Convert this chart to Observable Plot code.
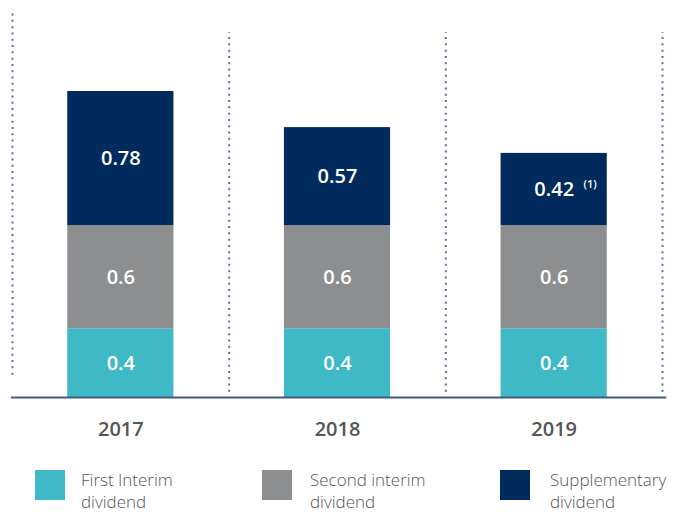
<!DOCTYPE html>
<html>
<head>
<meta charset="utf-8">
<script src="https://cdn.jsdelivr.net/npm/d3@7"></script>
<script src="https://cdn.jsdelivr.net/npm/@observablehq/plot@0.6"></script>
<style>
  html, body { margin: 0; padding: 0; background: #fff; }
  body { width: 682px; height: 512px; overflow: hidden; font-family: "Open Sans", sans-serif; }
  #legend { position: relative; height: 57px; }
  .item { position: absolute; top: 15px; display: flex; align-items: flex-start; }
  .sw { width: 30px; height: 30px; flex: none; }
  .lab { font-size: 17px; line-height: 22px; color: #555; font-weight: 300; margin-top: -1px; }
</style>
</head>
<body>
<div id="chart"></div>
<div id="legend"></div>
<script>
const years = [2017, 2018, 2019];
const seriesNames = ["First Interim dividend", "Second interim dividend", "Supplementary dividend"];
const seriesLines = [["First Interim", "dividend"], ["Second interim", "dividend"], ["Supplementary", "dividend"]];
const firstInterim = [0.4, 0.4, 0.4];
const secondInterim = [0.6, 0.6, 0.6];
const supplementary = [0.78, 0.57, 0.42];
const valueLabels = [["0.4", "0.6", "0.78"], ["0.4", "0.6", "0.57"], ["0.4", "0.6", "0.42"]];
const notes = [{year: 2019, series: 2, note: "(1)"}];
const colors = ["#40b9c6", "#8d8e90", "#002b5c"];
const gridBounds = [2016.5, 2017.5, 2018.5, 2019.5];
const gridTops = [2.257, 2.123, 2.123, 2.123];
const gridBottoms = [0.13, 0.03, 0.03, 0.03];

const seriesValues = [firstInterim, secondInterim, supplementary];
const rows = [];
years.forEach((year, i) => {
  let acc = 0;
  seriesValues.forEach((vals, s) => {
    rows.push({year, series: seriesNames[s], s, y1: acc, y2: acc + vals[i], label: valueLabels[i][s]});
    acc += vals[i];
  });
});
const noteRows = notes.map(n => rows.find(r => r.year === n.year && r.s === n.series)).map((r, k) => ({...r, note: notes[k].note}));
const grid = gridBounds.map((x, i) => ({x, top: gridTops[i], bottom: gridBottoms[i]}));
const halfWidth = 0.245;

const chart = Plot.plot({
  width: 682,
  height: 455,
  marginLeft: 12,
  marginRight: 20,
  marginTop: 9,
  marginBottom: 58,
  style: {fontFamily: "Open Sans, sans-serif", background: "#fff"},
  x: {domain: [2016.5, 2019.5], axis: null},
  y: {domain: [0, 2.257], axis: null},
  color: {domain: seriesNames, range: colors},
  marks: [
    Plot.ruleX(grid, {x: "x", y1: "bottom", y2: "top", stroke: "#5b7496", strokeWidth: 2, strokeDasharray: "2,4.3"}),
    Plot.rectY(rows, {x1: d => d.year - halfWidth, x2: d => d.year + halfWidth, y1: "y1", y2: "y2", fill: "series"}),
    Plot.ruleY([0], {x1: 2016.495, x2: 2019.52, stroke: "#3f5b7d", strokeWidth: 2}),
    Plot.text(rows, {x: "year", y: d => (d.y1 + d.y2) / 2, text: "label", fill: "white", fontSize: 20, fontWeight: 600}),
    Plot.text(noteRows, {x: "year", y: d => (d.y1 + d.y2) / 2, text: "note", fill: "white", fontSize: 11, fontWeight: 600, dx: 36, dy: -5}),
    Plot.axisX(years, {tickSize: 0, tickPadding: 24, fontSize: 20, fontWeight: 600, fill: "#555", tickFormat: d => String(d)})
  ]
});
document.getElementById("chart").appendChild(chart);

const legendPos = [{left: 35, gap: 16}, {left: 262, gap: 18}, {left: 500, gap: 20}];
const legend = document.getElementById("legend");
seriesNames.forEach((name, i) => {
  const item = document.createElement("div");
  item.className = "item";
  item.style.left = legendPos[i].left + "px";
  const sw = document.createElement("div");
  sw.className = "sw";
  sw.style.background = colors[i];
  sw.style.marginRight = legendPos[i].gap + "px";
  const lab = document.createElement("div");
  lab.className = "lab";
  lab.innerHTML = seriesLines[i].join("<br>");
  item.appendChild(sw);
  item.appendChild(lab);
  legend.appendChild(item);
});
</script>
</body>
</html>
